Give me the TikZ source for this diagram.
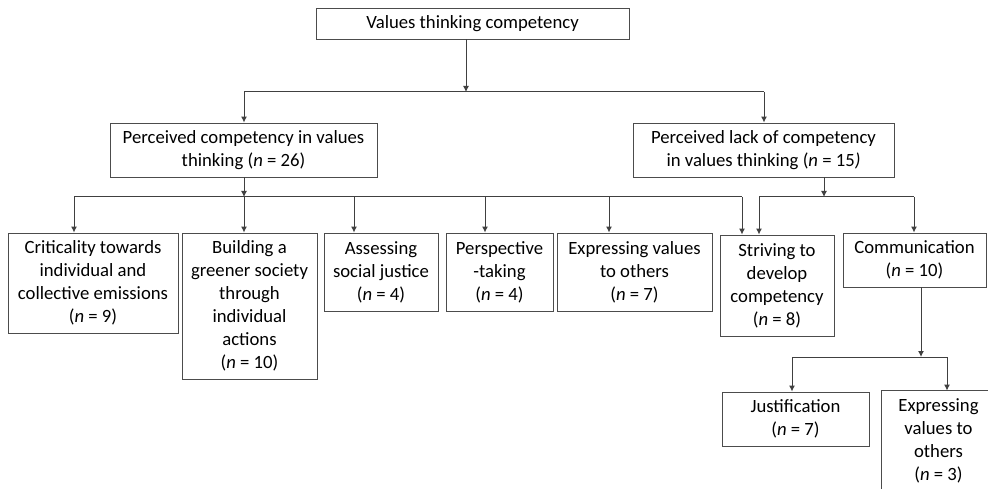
\documentclass[tikz,border=0pt]{standalone}
\usepackage{fontspec}
\setmainfont{Carlito}
\usetikzlibrary{arrows.meta}
\newcommand{\nn}{\textit{n}}
\begin{document}
\begin{tikzpicture}[x=1pt,y=-1pt,
  box/.style={draw=black!70, line width=0.9pt, align=center, text=black,
    inner sep=0pt, font=\fontsize{18.7}{23}\selectfont},
  arr/.style={draw=black!75, line width=1pt, -{Latex[length=6pt,width=6pt]}},
  bus/.style={draw=black!75, line width=1pt}]
\useasboundingbox (0,0) rectangle (988,489);
\clip (0,0) rectangle (988,489);
\fill[white] (0,0) rectangle (988,489);

% root and the two main branches
\node[box, minimum width=313pt, minimum height=31pt] (top) at (472.5,23.5) {Values thinking competency};
\node[box, minimum width=267pt, minimum height=54pt] (L) at (243.5,150) {Perceived competency in values\\thinking (\nn{} = 26)};
\node[box, minimum width=261pt, minimum height=54pt] (R) at (763.5,150) {Perceived lack of competency\\in values thinking (\nn{} = 15\textit{)}};

% sub-themes
\node[box, minimum width=170pt, minimum height=100pt] (c1) at (93,283) {Criticality towards\\individual and\\collective emissions\\(\nn{} = 9)};
\node[box, minimum width=135pt, minimum height=146pt] (c2) at (249.5,306) {Building a\\greener society\\through\\individual\\actions\\(\nn{} = 10)};
\node[box, minimum width=114pt, minimum height=78pt] (c3) at (381,272) {Assessing\\social justice\\(\nn{} = 4)};
\node[box, minimum width=107pt, minimum height=78pt] (c4) at (499.5,272) {Perspective\\-taking\\(\nn{} = 4)};
\node[box, minimum width=155pt, minimum height=78pt] (c5) at (634.5,272) {Expressing values\\to others\\(\nn{} = 7)};
\node[box, minimum width=114pt, minimum height=101pt] (c6) at (777,285.5) {Striving to\\develop\\competency\\(\nn{} = 8)};
\node[box, minimum width=143pt, minimum height=54pt] (c7) at (914.5,260) {Communication\\(\nn{} = 10)};
\node[box, minimum width=147pt, minimum height=54pt] (j) at (795.5,419) {Justification\\(\nn{} = 7)};
% this box runs past the right and bottom edges of the page
\node[box, draw=none, minimum width=113pt, minimum height=100pt] (e2) at (938.5,441) {Expressing\\values to\\others\\(\nn{} = 3)};
\draw[draw=black!70, line width=0.9pt] (e2.south west |- 0,500) -- (e2.north west) -- (e2.north east -| 1010,0) -- (1010,500);

% branching points
\coordinate (t0) at (466,92);
\coordinate (tl) at (244,92);
\coordinate (tr) at (764,92);
\coordinate (l0) at (244,197);
\coordinate (b1) at (74,197);
\coordinate (b2) at (244,197);
\coordinate (b3) at (354,197);
\coordinate (b4) at (485,197);
\coordinate (b5) at (609,197);
\coordinate (b6) at (742,197);
\coordinate (r0) at (824,197);
\coordinate (r1) at (759,197);
\coordinate (r2) at (914,197);
\coordinate (k0) at (921,357);
\coordinate (k1) at (792,357);
\coordinate (k2) at (947,357);

% root level
\draw[arr] (top.south -| t0) -- (t0);
\draw[bus] (tl) -- (tr);
\draw[arr] (tl) -- (L.north -| tl);
\draw[arr] (tr) -- (R.north -| tr);

% perceived competency
\draw[arr] (L.south -| l0) -- (l0);
\draw[bus] (b1) -- (b6);
\foreach \b/\c in {b1/c1,b2/c2,b3/c3,b4/c4,b5/c5,b6/c6}
  \draw[arr] (\b) -- (\c.north -| \b);

% perceived lack of competency
\draw[arr] (R.south -| r0) -- (r0);
\draw[bus] (r1) -- (r2);
\draw[arr] (r1) -- (c6.north -| r1);
\draw[arr] (r2) -- (c7.north -| r2);

% communication
\draw[arr] (c7.south -| k0) -- (k0);
\draw[bus] (k1) -- (k2);
\draw[arr] (k1) -- (j.north -| k1);
\draw[arr] (k2) -- (e2.north -| k2);
\end{tikzpicture}
\end{document}
